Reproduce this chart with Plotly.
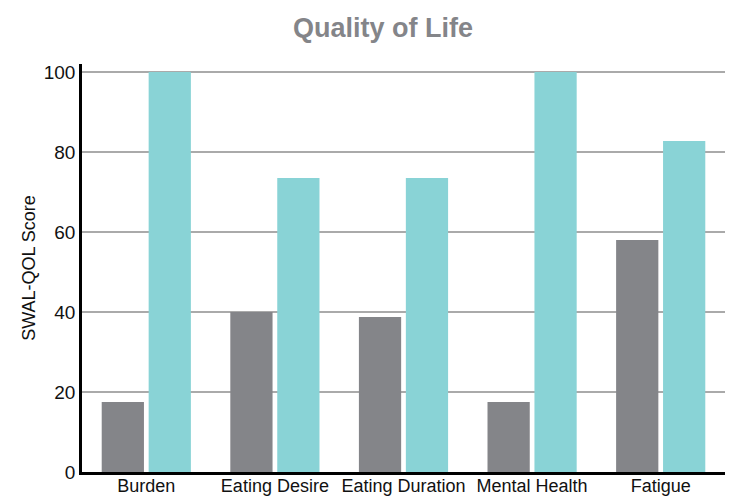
import plotly.graph_objects as go

categories = ["Burden", "Eating Desire", "Eating Duration", "Mental Health", "Fatigue"]
series_a = [17.5, 40, 38.75, 17.5, 58]
series_b = [100, 73.5, 73.5, 100, 82.75]
y_ticks = [0, 20, 40, 60, 80, 100]

fig = go.Figure()
fig.add_trace(go.Bar(x=categories, y=series_a, marker_color="#848589", marker_line_width=0, showlegend=False))
fig.add_trace(go.Bar(x=categories, y=series_b, marker_color="#89d3d6", marker_line_width=0, showlegend=False))

font_family = "Liberation Sans, Arial, Helvetica, sans-serif"
fig.update_layout(
    width=731, height=499,
    margin=dict(l=82, r=6, t=64, b=27),
    paper_bgcolor="white", plot_bgcolor="white",
    barmode="group", bargap=0.27, bargroupgap=0.1,
    font=dict(family=font_family, color="#111111", size=18),
    title=dict(text="<b>Quality of Life</b>", x=0.524, xanchor="center", y=0.945, yanchor="middle",
               font=dict(family=font_family, size=27, color="#848589")),
    xaxis=dict(showline=True, linecolor="black", linewidth=2.5, showgrid=False, ticks="",
               tickfont=dict(size=18), fixedrange=True, automargin=False, ticklabelstandoff=-4),
    yaxis=dict(range=[0, 102], tickvals=y_ticks, showline=True, linecolor="black", linewidth=2.5,
               showgrid=True, gridcolor="#aaaaaa", gridwidth=1.5, zeroline=False, ticks="",
               tickfont=dict(size=19), automargin=False,
               title=dict(text="SWAL-QOL Score", font=dict(size=18), standoff=4)),
)
fig.write_html("out.html")
